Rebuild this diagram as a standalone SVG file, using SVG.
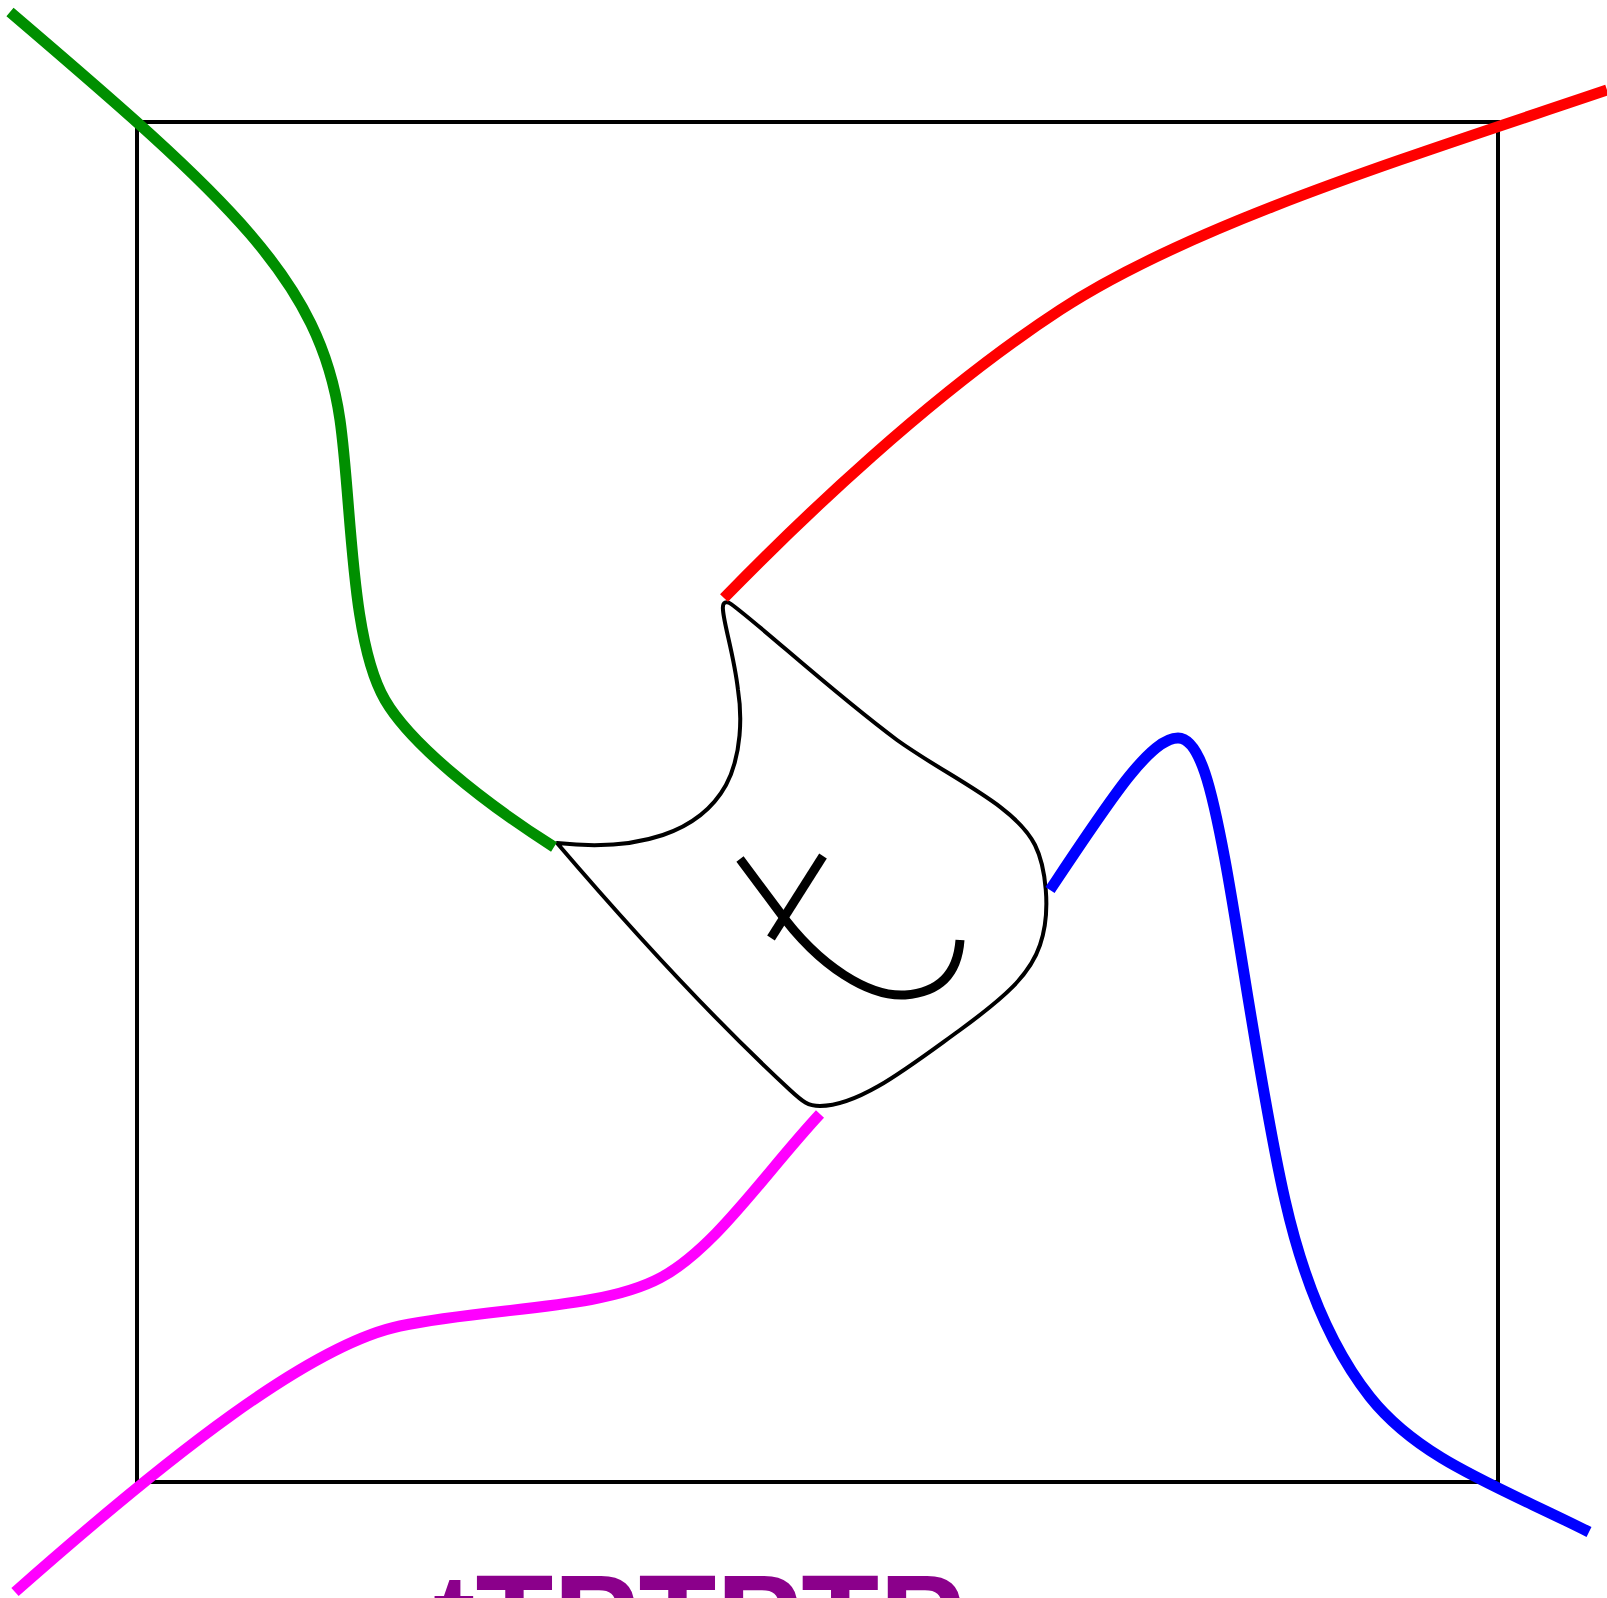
<svg xmlns="http://www.w3.org/2000/svg" width="1607" height="1598" viewBox="0 0 1607 1598">
<style>
.frame{fill:none;stroke:#000;stroke-width:4}
.blob{fill:none;stroke:#000;stroke-width:4;stroke-linejoin:round}
.sym{fill:none;stroke:#000;stroke-width:9}
.wire{fill:none;stroke-width:11;stroke-linecap:butt}
.lbl{font-family:"Liberation Sans",Arial,sans-serif;font-weight:bold;font-size:127.5px;fill:#8b008b}
</style>
<rect width="1607" height="1598" fill="#fff"/>
<g id="frame"><rect class="frame" x="137" y="122" width="1361" height="1360"/></g>
<g id="blob"><path class="blob" d="M557,843 C640,852 700,832 726,785 C742,755 742,715 738,690 C734,655 724,625 723,610 C722,601 727,601 731,604 C760,625 830,690 897,740 C950,778 1015,805 1035,845 C1045,865 1052,910 1040,945 C1030,975 1005,997 960,1030 C910,1066 860,1106 820,1106 C808,1106 803,1102 790,1090 C720,1025 640,940 557,843 Z"/></g>
<g id="symbol"><path class="sym" d="M740,859 L778,910 C820,968 870,997 905,995 C945,992 958,968 960,940"/><path class="sym" d="M823,856 L771,938"/></g>
<g id="connectors">
<path class="wire" stroke="#008f00" d="M10,12 C230,200 320,280 340,420 C352,504 350,640 385,700 C410,743 480,800 554,847"/>
<path class="wire" stroke="#ff0000" d="M724,598 C800,520 930,395 1060,310 C1190,225 1400,160 1607,90"/>
<path class="wire" stroke="#0000ff" d="M1050,890 C1110,800 1150,738 1178,738 C1200,738 1212,790 1225,860 C1240,940 1262,1100 1285,1200 C1300,1266 1325,1340 1370,1397 C1420,1460 1500,1487 1589,1532"/>
<path class="wire" stroke="#ff00ff" d="M15,1592 C170,1455 310,1345 400,1326 C490,1307 600,1310 660,1278 C715,1249 765,1173 820,1114"/>
</g>
<g id="label"><text class="lbl" x="433" y="1664">tTPTPTP</text></g>
</svg>
